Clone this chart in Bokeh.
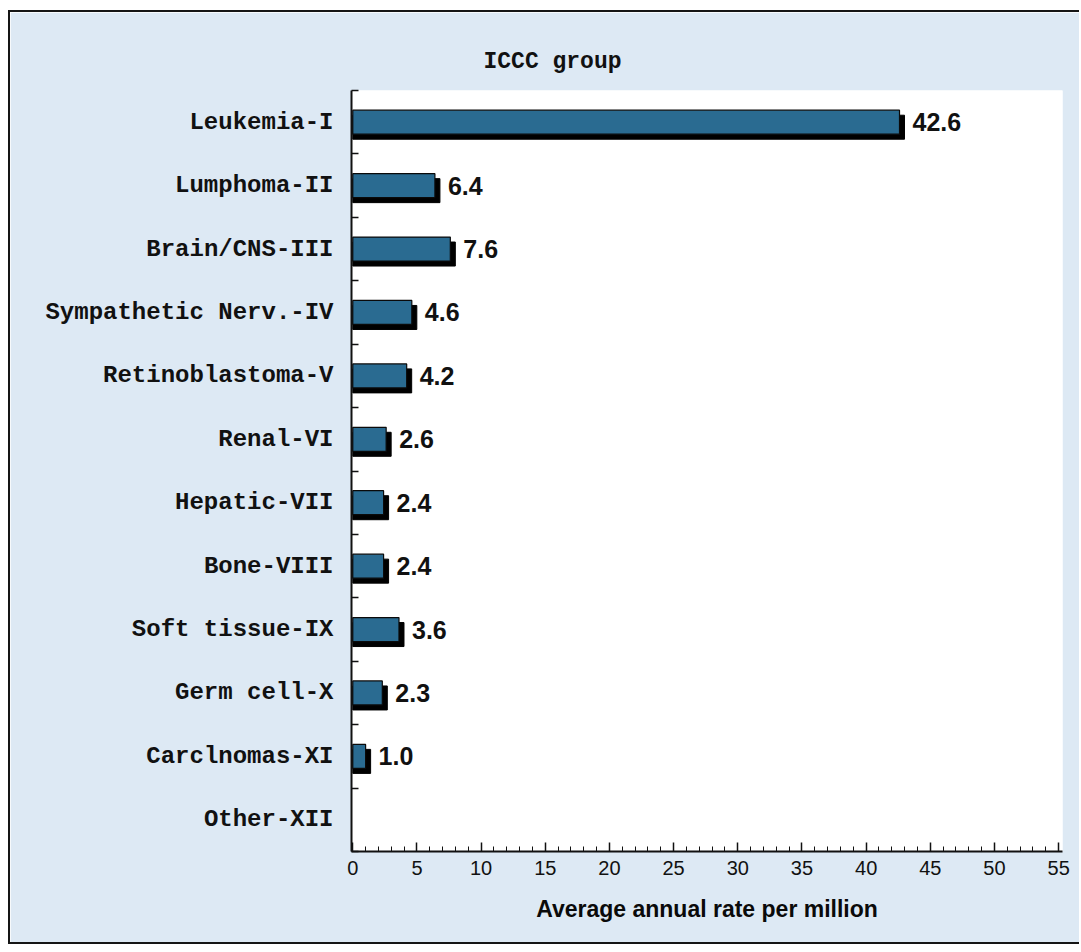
from bokeh.plotting import figure
from bokeh.models import Range1d, FixedTicker, Title, ColumnDataSource
from bokeh.core.properties import value
from bokeh.embed import file_html
from bokeh.resources import INLINE

# ---- data ----
categories = ["Leukemia-I", "Lumphoma-II", "Brain/CNS-III", "Sympathetic Nerv.-IV",
              "Retinoblastoma-V", "Renal-VI", "Hepatic-VII", "Bone-VIII",
              "Soft tissue-IX", "Germ cell-X", "Carclnomas-XI", "Other-XII"]
rates = [42.6, 6.4, 7.6, 4.6, 4.2, 2.6, 2.4, 2.4, 3.6, 2.3, 1.0, None]
x_ticks = list(range(0, 56, 5))
x_minor = list(range(0, 56))

n = len(categories)
centers = [n - i - 0.5 for i in range(n)]
bounds = list(range(0, n + 1))

BG = "#dde9f4"
BAR = "#2a6b91"

p = figure(width=1071, height=934, output_backend="svg", toolbar_location=None,
           x_range=Range1d(-0.1, 55.3), y_range=Range1d(0, n),
           min_border_left=341, min_border_right=19, min_border_top=78,
           min_border_bottom=95)
p.margin = (10, 0, 0, 8)
p.styles = {"border-left": "2px solid #151515", "border-top": "2px solid #151515",
            "border-bottom": "2px solid #151515"}
p.border_fill_color = BG
p.background_fill_color = "white"
p.outline_line_color = None
p.grid.visible = False

# bars (3D look: black shadow + body)
ys = [c for c, r in zip(centers, rates) if r is not None]
vals = [r for r in rates if r is not None]
px_x = 12.83
px_y = 761 / n
dx = 5 / px_x
dy = 5 / px_y
bh = 24 / px_y
src = ColumnDataSource(dict(y=ys, v=vals,
                            ys=[y - dy for y in ys],
                            vs=[v + dx for v in vals],
                            lx=[v + dx + 8 / px_x for v in vals],
                            lab=[f"{v:.1f}" for v in vals]))
p.hbar(y="ys", right="vs", left=0, height=bh, source=src,
       fill_color="black", line_color="black")
p.hbar(y="y", right="v", left=0, height=bh, source=src,
       fill_color=BAR, line_color="#0a0a0a", line_width=1.2)
p.text(x="lx", y="y", text="lab", source=src, text_baseline="middle",
       text_align="left", text_font=value("Liberation Sans"),
       text_font_style="bold", text_font_size="25px", text_color="#111111")

# x axis
xa = p.xaxis[0]
xa.ticker = FixedTicker(ticks=x_ticks, minor_ticks=x_minor)
xa.axis_line_width = 2
xa.axis_line_color = "#111111"
xa.major_tick_in = 9
xa.major_tick_out = 0
xa.minor_tick_in = 5
xa.minor_tick_out = 0
xa.major_tick_line_width = 1.5
xa.major_tick_line_color = "#111111"
xa.minor_tick_line_color = "#111111"
xa.major_label_standoff = 9
xa.major_label_text_font = "Liberation Sans"
xa.major_label_text_font_size = "20px"
xa.major_label_text_color = "#111111"
xa.axis_label = "Average annual rate per million"
xa.axis_label_text_font = "Liberation Sans"
xa.axis_label_text_font_style = "bold"
xa.axis_label_text_font_size = "23px"
xa.axis_label_text_color = "#0a0a0a"
xa.axis_label_standoff = 18

# y axis: labels at centers, ticks at category boundaries
ya = p.yaxis[0]
ya.ticker = FixedTicker(ticks=centers, minor_ticks=bounds)
ya.major_label_overrides = {c: lab for c, lab in zip(centers, categories)}
ya.axis_line_width = 2
ya.axis_line_color = "#111111"
ya.major_tick_line_color = None
ya.major_tick_in = 0
ya.major_tick_out = 0
ya.minor_tick_in = 7
ya.minor_tick_out = 0
ya.minor_tick_line_width = 1.5
ya.minor_tick_line_color = "#111111"
ya.major_label_standoff = 18
ya.major_label_text_font = "Liberation Mono"
ya.major_label_text_font_style = "bold"
ya.major_label_text_font_size = "24px"
ya.major_label_text_color = "#111111"

p.add_layout(Title(text="ICCC group", align="left", offset=132,
                   text_font="Liberation Mono", text_font_style="bold",
                   text_font_size="23px", text_color="#111111",
                   standoff=32), "above")

open("out.html", "w").write(file_html(p, INLINE))
